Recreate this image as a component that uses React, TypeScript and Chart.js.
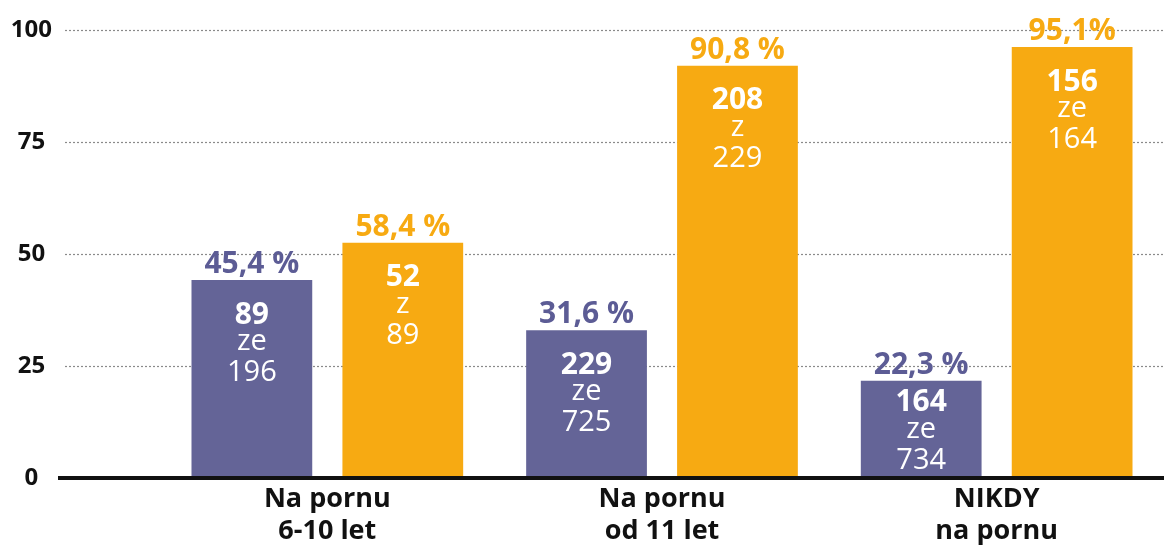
import React, { useEffect, useRef } from "react";
import { Chart, registerables } from "chart.js";

Chart.register(...registerables);

const categories: string[][] = [
  ["Na pornu", "6-10 let"],
  ["Na pornu", "od 11 let"],
  ["NIKDY", "na pornu"],
];
const purpleValues = [44.2, 33.0, 21.7];
const orangeValues = [52.5, 92.0, 96.2];
const purplePct = ["45,4 %", "31,6 %", "22,3 %"];
const orangePct = ["58,4 %", "90,8 %", "95,1%"];
const purpleCount = ["89", "229", "164"];
const purpleWord = ["ze", "ze", "ze"];
const purpleTotal = ["196", "725", "734"];
const orangeCount = ["52", "208", "156"];
const orangeWord = ["z", "z", "ze"];
const orangeTotal = ["89", "229", "164"];
const yTicks = [0, 25, 50, 75, 100];

const PURPLE = "#646497";
const PURPLE_TEXT = "#5c5c95";
const ORANGE = "#f7aa12";
const FONT = "'Open Sans', 'DejaVu Sans', sans-serif";

const pctLabels = [purplePct, orangePct];
const countLabels = [purpleCount, orangeCount];
const wordLabels = [purpleWord, orangeWord];
const totalLabels = [purpleTotal, orangeTotal];
const textColors = [PURPLE_TEXT, ORANGE];

const gridPlugin = {
  id: "customGrid",
  beforeDatasetsDraw(chart: any) {
    const { ctx, chartArea, scales } = chart;
    const y = scales.y;
    ctx.save();
    ctx.strokeStyle = "#8a8a8a";
    ctx.lineWidth = 1.2;
    ctx.setLineDash([2, 2]);
    yTicks.forEach((v) => {
      if (v === 0) return;
      const py = Math.round(y.getPixelForValue(v)) + 0.5;
      ctx.beginPath();
      ctx.moveTo(65, py);
      ctx.lineTo(chartArea.right, py);
      ctx.stroke();
    });
    ctx.restore();
  },
  afterDatasetsDraw(chart: any) {
    const { ctx, chartArea, scales } = chart;
    const y = scales.y;
    ctx.save();
    const y0 = y.getPixelForValue(0);
    ctx.strokeStyle = "#111";
    ctx.lineWidth = 4;
    ctx.beginPath();
    ctx.moveTo(58, y0);
    ctx.lineTo(chartArea.right, y0);
    ctx.stroke();

    chart.data.datasets.forEach((_: any, di: number) => {
      const meta = chart.getDatasetMeta(di);
      meta.data.forEach((bar: any, i: number) => {
        const top = bar.y;
        const base = bar.base;
        const x = bar.x;
        ctx.textAlign = "center";
        ctx.fillStyle = textColors[di];
        ctx.font = `bold 30px ${FONT}`;
        ctx.textBaseline = "alphabetic";
        ctx.fillText(pctLabels[di][i], x, top - 7);
        const h = base - top;
        const lineGap = 29;
        const first = top + Math.min(35, (h - 2 * lineGap) / 2 + 2);
        ctx.fillStyle = "#ffffff";
        ctx.textBaseline = "middle";
        ctx.font = `bold 30px ${FONT}`;
        ctx.fillText(countLabels[di][i], x, first);
        ctx.font = `29px ${FONT}`;
        ctx.fillText(wordLabels[di][i], x, first + lineGap - 2);
        ctx.fillText(totalLabels[di][i], x, first + 2 * lineGap);
      });
    });
    ctx.restore();
  },
};

export default function App() {
  const ref = useRef<HTMLCanvasElement>(null);
  useEffect(() => {
    if (!ref.current) return;
    const chart = new Chart(ref.current, {
      type: "bar",
      data: {
        labels: categories,
        datasets: [
          {
            label: "A",
            data: purpleValues,
            backgroundColor: PURPLE,
            categoryPercentage: 0.902,
            barPercentage: 0.8,
          },
          {
            label: "B",
            data: orangeValues,
            backgroundColor: ORANGE,
            categoryPercentage: 0.902,
            barPercentage: 0.8,
          },
        ],
      },
      options: {
        animation: false,
        responsive: false,
        maintainAspectRatio: false,
        layout: { padding: { top: 30, left: 0, right: 0, bottom: 0 } },
        plugins: {
          legend: { display: false },
          tooltip: { enabled: false },
        },
        scales: {
          x: {
            grid: { display: false, drawTicks: false },
            border: { display: false },
            ticks: {
              color: "#111",
              padding: 5,
              maxRotation: 0,
              font: { family: FONT, size: 27, weight: "bold", lineHeight: 1.2 },
            },
            afterFit(scale: any) {
              scale.height = 72;
            },
          },
          y: {
            min: 0,
            max: 100,
            grid: { display: false, drawTicks: true, tickLength: 104 },
            border: { display: false },
            afterBuildTicks(scale: any) {
              scale.ticks = yTicks.map((v) => ({ value: v }));
            },
            ticks: {
              color: "#111",
              padding: 4,
              crossAlign: "center",
              font: { family: FONT, size: 24, weight: "bold" },
            },
            afterFit(scale: any) {
              scale.width = 160;
            },
          },
        },
      },
      plugins: [gridPlugin],
    } as any);
    return () => chart.destroy();
  }, []);
  return (
    <div style={{ position: "fixed", left: 0, top: 0, width: 1164, height: 550, background: "#fff" }}>
      <canvas ref={ref} width={1164} height={550} style={{ display: "block" }} />
    </div>
  );
}
